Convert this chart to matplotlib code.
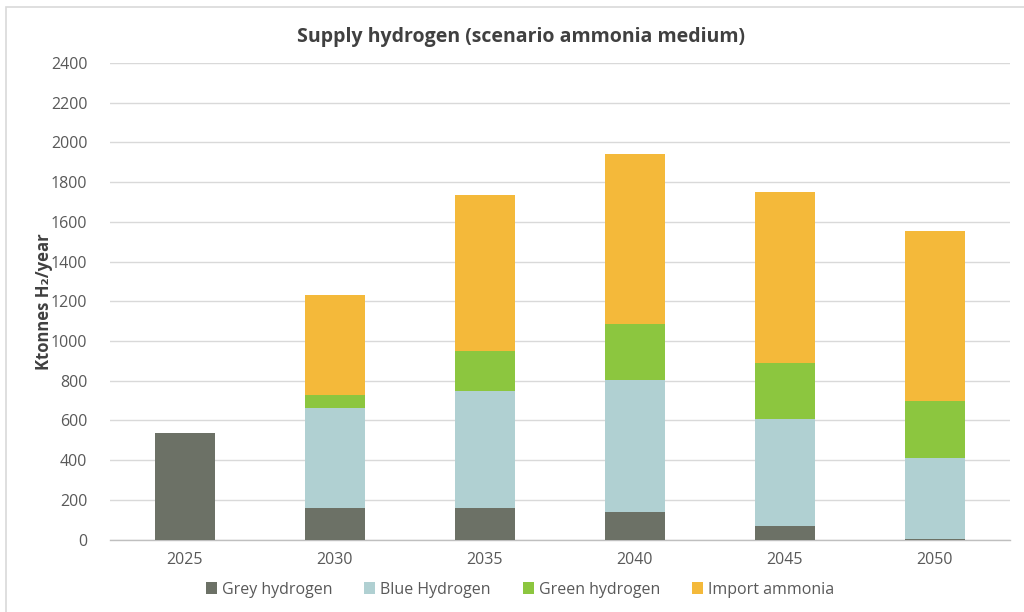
import matplotlib
matplotlib.use("Agg")
import matplotlib.pyplot as plt
import numpy as np
from matplotlib.patches import Rectangle

years = ["2025", "2030", "2035", "2040", "2045", "2050"]
grey_h2 = [535, 157, 157, 137, 70, 5]
blue_h2 = [0, 505, 592, 664, 537, 404]
green_h2 = [0, 67, 198, 284, 283, 288]
import_nh3 = [0, 504, 786, 857, 858, 855]

series_names = ["Grey hydrogen", "Blue Hydrogen", "Green hydrogen", "Import ammonia"]
series_colors = ["#6c7166", "#b0d0d2", "#8cc63f", "#f4b93a"]
yticks = list(range(0, 2401, 200))

plt.rcParams["font.family"] = ["Open Sans", "DejaVu Sans"]

fig = plt.figure(figsize=(10.24, 6.12), dpi=100)
fig.patch.set_facecolor("white")

# thin outer frame of the chart area
fig.patches.append(Rectangle((6 / 1024, -0.1), 1.2, (612 - 7) / 612 + 0.1,
                             transform=fig.transFigure, fill=False,
                             edgecolor="#d9d9d9", linewidth=1.2))

ax = fig.add_axes([109.5 / 1024, (612 - 539.5) / 612, 900 / 1024, 476.5 / 612])

x = np.arange(len(years))
bottom = np.zeros(len(years))
for name, vals, col in zip(series_names, [grey_h2, blue_h2, green_h2, import_nh3], series_colors):
    v = np.array(vals, dtype=float)
    ax.bar(x, v, width=0.4, bottom=bottom, color=col, label=name, zorder=3)
    bottom += v

ax.set_xlim(-0.5, len(years) - 0.5)
ax.set_ylim(0, 2400)
ax.set_yticks(yticks)
ax.set_xticks(x)
ax.set_xticklabels(years)
ax.yaxis.grid(True, color="#d9d9d9", linewidth=1.0, zorder=0)
ax.set_axisbelow(True)
for s in ["top", "right", "left"]:
    ax.spines[s].set_visible(False)
ax.spines["bottom"].set_color("#bfbfbf")
ax.spines["bottom"].set_linewidth(1.0)
ax.tick_params(axis="both", length=0, labelsize=11.5, labelcolor="#595959")
ax.tick_params(axis="y", pad=16)
ax.tick_params(axis="x", pad=9)

ax.set_ylabel("Ktonnes H\u2082/year", fontsize=12, fontweight="bold",
              color="#404040")
ax.yaxis.set_label_coords(-0.063, 0.5)

fig.text(0.509, 0.94, "Supply hydrogen (scenario ammonia medium)", ha="center",
         va="center", fontsize=14, fontweight="bold", color="#404040")

leg = ax.legend(loc="center", bbox_to_anchor=(0.456, -0.105), ncol=4, frameon=False,
                fontsize=11.5, handlelength=0.7, handleheight=0.7,
                handletextpad=0.3, columnspacing=2.0)
for t in leg.get_texts():
    t.set_color("#595959")

fig.savefig("out.png", dpi=100, facecolor="white")
